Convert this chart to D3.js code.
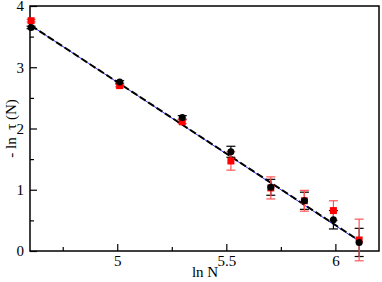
<!DOCTYPE html>
<html>
<head>
<meta charset="utf-8">
<script src="https://cdn.jsdelivr.net/npm/d3@7"></script>
<style>
  body { margin: 0; background: #fff; }
  svg text { font-family: "Liberation Serif", "DejaVu Serif", serif !important; }
</style>
</head>
<body>
<div id="chart"></div>
<script>
// ln N for N = 100, 150, ..., 450
const lnN = [4.605, 5.011, 5.298, 5.521, 5.704, 5.858, 5.991, 6.109];

// black series (circles)
const blackY = [3.65, 2.76, 2.18, 1.62, 1.04, 0.82, 0.51, 0.14];
const blackErr = [0.02, 0.02, 0.03, 0.09, 0.13, 0.14, 0.15, 0.23];

// red series (squares)
const redY = [3.76, 2.70, 2.11, 1.47, 1.03, 0.82, 0.66, 0.18];
const redErr = [0.02, 0.02, 0.03, 0.15, 0.18, 0.17, 0.16, 0.34];

// fitted lines (endpoints)
const fitX = [4.605, 6.109];
const blueFit = [3.68, 0.16];
const blackFit = [3.68, 0.17];

const xTicks = [5, 5.5, 6];
const xMinor = [4.75, 5.25, 5.75];
const yTicks = [0, 1, 2, 3, 4];
const yMinor = [0.5, 1.5, 2.5, 3.5];

const width = 382, height = 282;
const marginTop = 6, marginRight = 3, marginBottom = 31, marginLeft = 30;
const serif = "Liberation Serif";

const x = d3.scaleLinear()
  .domain([4.6, 6.2])
  .range([marginLeft, width - marginRight]);

const y = d3.scaleLinear()
  .domain([0, 4])
  .range([height - marginBottom, marginTop]);

const svg = d3.select("#chart")
  .append("svg")
  .attr("width", width)
  .attr("height", height)
  .attr("viewBox", [0, 0, width, height]);

// Frame
svg.append("rect")
  .attr("x", marginLeft)
  .attr("y", marginTop)
  .attr("width", width - marginLeft - marginRight)
  .attr("height", height - marginTop - marginBottom)
  .attr("fill", "none")
  .attr("stroke", "#000")
  .attr("stroke-width", 1.5);

// x axis: inward ticks
svg.append("g")
  .attr("transform", `translate(0,${height - marginBottom})`)
  .attr("font-family", serif)
  .call(d3.axisBottom(x).tickValues(xTicks).tickSize(-7).tickPadding(4).tickFormat(d3.format("")))
  .attr("font-family", serif)
  .call((g) => g.select(".domain").remove())
  .call((g) => g.selectAll(".tick line").attr("stroke-width", 1.2))
  .call((g) => g.selectAll("text").attr("font-size", 15).attr("fill", "#000"));

svg.append("g")
  .attr("transform", `translate(0,${height - marginBottom})`)
  .call(d3.axisBottom(x).tickValues(xMinor).tickSize(-4).tickFormat(""))
  .call((g) => g.select(".domain").remove())
  .call((g) => g.selectAll(".tick line").attr("stroke-width", 1.2));

// y axis
svg.append("g")
  .attr("transform", `translate(${marginLeft},0)`)
  .call(d3.axisLeft(y).tickValues(yTicks).tickSize(-7).tickPadding(6).tickFormat(d3.format("d")))
  .attr("font-family", serif)
  .call((g) => g.select(".domain").remove())
  .call((g) => g.selectAll(".tick line").attr("stroke-width", 1.2))
  .call((g) => g.selectAll("text").attr("font-size", 15).attr("fill", "#000"));

svg.append("g")
  .attr("transform", `translate(${marginLeft},0)`)
  .call(d3.axisLeft(y).tickValues(yMinor).tickSize(-4).tickFormat(""))
  .call((g) => g.select(".domain").remove())
  .call((g) => g.selectAll(".tick line").attr("stroke-width", 1.2));

// Axis titles
svg.append("text")
  .attr("x", 205)
  .attr("y", 277)
  .attr("text-anchor", "middle")
  .attr("font-size", 15)
  .text("ln N");

svg.append("text")
  .attr("transform", `translate(16,${(marginTop + height - marginBottom) / 2}) rotate(-90)`)
  .attr("text-anchor", "middle")
  .attr("font-size", 15)
  .attr("xml:space", "preserve")
  .text("- ln  \u03c4 (N)");

// Fit lines
const line = d3.line().x((d) => x(d[0])).y((d) => y(d[1]));

svg.append("path")
  .datum(d3.zip(fitX, blueFit))
  .attr("fill", "none")
  .attr("stroke", "#3333ff")
  .attr("stroke-width", 1)
  .attr("d", line);

svg.append("path")
  .datum(d3.zip(fitX, blackFit))
  .attr("fill", "none")
  .attr("stroke", "#000")
  .attr("stroke-width", 2)
  .attr("stroke-dasharray", "7,3")
  .attr("d", line);

// Error bars
function errorBars(vals, errs, color) {
  const g = svg.append("g").attr("stroke", color).attr("stroke-width", 1.2);
  lnN.forEach((xv, i) => {
    const cx = x(xv);
    const y1 = y(vals[i] + errs[i]);
    const y2 = y(vals[i] - errs[i]);
    g.append("line").attr("x1", cx).attr("x2", cx).attr("y1", y1).attr("y2", y2);
    g.append("line").attr("x1", cx - 4.5).attr("x2", cx + 4.5).attr("y1", y1).attr("y2", y1);
    g.append("line").attr("x1", cx - 4.5).attr("x2", cx + 4.5).attr("y1", y2).attr("y2", y2);
  });
}

errorBars(blackY, blackErr, "#000");
errorBars(redY, redErr, "#ff5555");

// Red squares
svg.append("g")
  .selectAll("rect")
  .data(lnN)
  .join("rect")
  .attr("x", (d) => x(d) - 3.5)
  .attr("y", (d, i) => y(redY[i]) - 3.5)
  .attr("width", 7)
  .attr("height", 7)
  .attr("fill", "#ff0000");

// Black circles
svg.append("g")
  .selectAll("circle")
  .data(lnN)
  .join("circle")
  .attr("cx", (d) => x(d))
  .attr("cy", (d, i) => y(blackY[i]))
  .attr("r", 3.5)
  .attr("fill", "#000");
</script>
</body>
</html>
